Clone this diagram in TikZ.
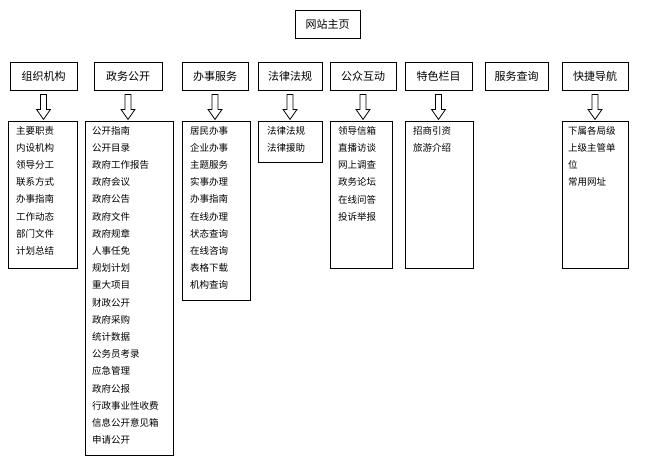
\documentclass[tikz,border=0pt]{standalone}
\usepackage{fontspec}
\setmainfont{Noto Sans CJK SC}
\usetikzlibrary{positioning}
\tikzset{
  headbox/.style={draw, thick, minimum height=28pt, inner sep=0pt, font=\fontsize{11}{13}\selectfont},
  listbox/.style={draw, thick, anchor=north west, inner sep=0pt},
  listtext/.style={anchor=north west, align=left, inner sep=0pt, font=\fontsize{9.5}{17.2}\selectfont},
  hollow/.style={draw, thick, fill=white}
}
% hollow down arrow below a head box
\newcommand{\hollowarrow}[1]{%
  \draw[hollow] ([xshift=-3pt,yshift=-4pt]#1.south) -- ([xshift=-3pt,yshift=-19pt]#1.south)
    -- ([xshift=-7pt,yshift=-19pt]#1.south) -- ([yshift=-29pt]#1.south)
    -- ([xshift=7pt,yshift=-19pt]#1.south) -- ([xshift=3pt,yshift=-19pt]#1.south)
    -- ([xshift=3pt,yshift=-4pt]#1.south) -- cycle;}

\begin{document}
\begin{tikzpicture}[x=1pt, y=-1pt]
\useasboundingbox (0,0) rectangle (645,475);
\node[headbox, minimum width=65pt] (home) at (327.5, 24) {网站主页};
\node[headbox, minimum width=67pt] (zz) at (43.5, 76) {组织机构};
\node[headbox, minimum width=68pt] (zw) at (128, 76) {政务公开};
\node[headbox, minimum width=66pt] (bs) at (215, 76) {办事服务};
\node[headbox, minimum width=64pt] (fl) at (290, 76) {法律法规};
\node[headbox, minimum width=66pt] (gz) at (363, 76) {公众互动};
\node[headbox, minimum width=67pt] (ts) at (438.5, 76) {特色栏目};
\node[headbox, minimum width=63pt] (fw) at (516.5, 76) {服务查询};
\node[headbox, minimum width=66pt] (kj) at (595, 76) {快捷导航};

\hollowarrow{zz}
\hollowarrow{zw}
\hollowarrow{bs}
\hollowarrow{fl}
\hollowarrow{gz}
\hollowarrow{ts}
\hollowarrow{kj}

\node[listbox, minimum width=69pt, minimum height=147pt] (zzl) at (8, 121) {};
\node[listbox, minimum width=88pt, minimum height=334pt] (zwl) at (85, 121) {};
\node[listbox, minimum width=68pt, minimum height=179pt] (bsl) at (182, 121) {};
\node[listbox, minimum width=64pt, minimum height=41pt] (fll) at (258, 121) {};
\node[listbox, minimum width=62pt, minimum height=147pt] (gzl) at (330, 121) {};
\node[listbox, minimum width=68pt, minimum height=147pt] (tsl) at (405, 121) {};
\node[listbox, minimum width=66pt, minimum height=147pt] (kjl) at (562, 121) {};

\node[listtext] at (16, 126) {主要职责\\内设机构\\领导分工\\联系方式\\办事指南\\工作动态\\部门文件\\计划总结};
\node[listtext] at (92, 126) {公开指南\\公开目录\\政府工作报告\\政府会议\\政府公告\\政府文件\\政府规章\\人事任免\\规划计划\\重大项目\\财政公开\\政府采购\\统计数据\\公务员考录\\应急管理\\政府公报\\行政事业性收费\\信息公开意见箱\\申请公开};
\node[listtext] at (190, 126) {居民办事\\企业办事\\主题服务\\实事办理\\办事指南\\在线办理\\状态查询\\在线咨询\\表格下载\\机构查询};
\node[listtext] at (267, 126) {法律法规\\法律援助};
\node[listtext] at (338, 126) {领导信箱\\直播访谈\\网上调查\\政务论坛\\在线问答\\投诉举报};
\node[listtext] at (413, 126) {招商引资\\旅游介绍};
\node[listtext] at (568, 126) {下属各局级\\上级主管单\\位\\常用网址};
\end{tikzpicture}
\end{document}
